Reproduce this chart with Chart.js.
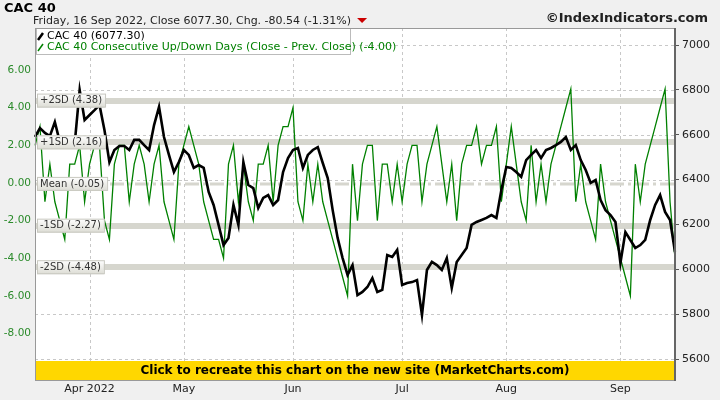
<!DOCTYPE html>
<html><head><meta charset="utf-8">
<script src="https://cdn.jsdelivr.net/npm/chart.js@4/dist/chart.umd.min.js"></script>
<style>html,body{margin:0;padding:0;background:#f0f0f0;}#w{width:720px;height:400px;position:relative;}</style>
</head><body><div id="w"><canvas id="c" width="720" height="400"></canvas></div>
<script>
const cacClose = [6590,6630,6608,6594,6657,6568,6554,6554,6560,6800,
6666,6688,6710,6733,6621,6478,6532,6550,6550,6532,
6577,6577,6554,6532,6643,6724,6590,6510,6434,6478,
6532,6510,6452,6465,6452,6345,6287,6198,6108,6140,
6287,6198,6478,6376,6362,6273,6318,6331,6287,6309,
6434,6496,6532,6541,6452,6510,6532,6545,6474,6407,
6264,6140,6050,5975,6019,5885,5899,5921,5961,5899,
5908,6064,6055,6086,5930,5939,5943,5952,5796,5997,
6033,6019,5997,6050,5917,6033,6064,6095,6198,6211,
6220,6229,6242,6229,6354,6456,6452,6434,6412,6487,
6510,6532,6496,6532,6541,6554,6568,6590,6532,6554,
6487,6443,6385,6398,6309,6264,6242,6211,6028,6166,
6131,6095,6108,6131,6220,6287,6331,6256,6220,6077];
const upDown = [2,3,-1,1,-1,-2,-3,1,1,2,
-1,1,2,2,-2,-3,1,2,2,-1,
1,2,1,-1,1,2,-1,-2,-3,1,
2,3,2,1,-1,-2,-3,-3,-4,1,
2,-1,1,-1,-2,1,1,2,-1,2,
3,3,4,-1,-2,1,-1,1,-1,-2,
-3,-4,-5,-6,1,-2,1,2,2,-2,
1,1,-1,1,-1,1,2,2,-1,1,
2,3,1,-1,1,-2,1,2,2,3,
1,2,2,3,-1,1,3,1,-1,-2,
2,-1,1,-1,1,2,3,4,5,-1,
1,-1,-2,-3,1,-1,-2,-3,-4,-5,
-6,1,-1,1,2,3,4,5,-1,-4];
const leftTicks = [6,4,2,0,-2,-4,-6,-8];
const rightTicks = [5600,5800,6000,6200,6400,6600,6800,7000];
const sdLines = [{v:4.38,t:'+2SD (4.38)'},{v:2.16,t:'+1SD (2.16)'},{v:-2.27,t:'-1SD (-2.27)'},{v:-4.48,t:'-2SD (-4.48)'}];
const meanLine = {v:-0.05,t:'Mean (-0.05)'};
const monthNames = ['Jan','Feb','Mar','Apr','May','Jun','Jul','Aug','Sep','Oct','Nov','Dec'];
const holidays = ['2022-04-15','2022-04-18'];
const dates = [];
for (let d = new Date(Date.UTC(2022,2,17)); dates.length < 130; d.setUTCDate(d.getUTCDate()+1)) {
  const wd = d.getUTCDay(); const s = d.toISOString().slice(0,10);
  if (wd===0||wd===6||holidays.includes(s)) continue;
  dates.push(s);
}
function monthStart(i){ if(i===0) return false; return dates[i].slice(5,7)!==dates[i-1].slice(5,7); }
function monthLabel(i){ const m=+dates[i].slice(5,7)-1; return m===3? 'Apr 2022' : monthNames[m]; }

const deco = {
  id:'deco',
  beforeDraw(ch){
    const c=ch.ctx, A=ch.chartArea; c.save();
    c.fillStyle='#f0f0f0'; c.fillRect(0,0,720,400);
    c.fillStyle='#ffffff'; c.fillRect(A.left,A.top,A.right-A.left,A.bottom-A.top);
    c.strokeStyle='#c8c8c8'; c.lineWidth=1; c.setLineDash([3,3]);
    const x=ch.scales.x, yr=ch.scales.yR;
    dates.forEach((d,i)=>{ if(monthStart(i)){const p=Math.round(x.getPixelForValue(i))+0.5; c.beginPath(); c.moveTo(p,A.top); c.lineTo(p,A.bottom); c.stroke();}});
    rightTicks.forEach(v=>{const p=Math.round(yr.getPixelForValue(v))+0.5; c.beginPath(); c.moveTo(A.left,p); c.lineTo(A.right,p); c.stroke();});
    c.setLineDash([]);
    const y=ch.scales.yL;
    c.lineWidth=6; c.strokeStyle='#d6d6ce';
    sdLines.forEach(s=>{const p=Math.round(y.getPixelForValue(s.v)); c.beginPath(); c.moveTo(A.left,p); c.lineTo(A.right,p); c.stroke();});
    c.lineWidth=3; c.setLineDash([14,4,3,4]);
    const pm=y.getPixelForValue(meanLine.v); c.beginPath(); c.moveTo(A.left,pm); c.lineTo(A.right,pm); c.stroke();
    c.restore();
  },
  afterDatasetsDraw(ch){
    const c=ch.ctx, A=ch.chartArea, PL=A.left, PT=A.top, PR=A.right; c.save();
    const y=ch.scales.yL;
    c.font='10px "DejaVu Sans"'; c.textBaseline='middle';
    [...sdLines,meanLine].forEach(s=>{
      const p=y.getPixelForValue(s.v); const w=c.measureText(s.t).width+6;
      const g=c.createLinearGradient(0,p-7,0,p+7); g.addColorStop(0,'#ffffff'); g.addColorStop(1,'#dcdcd4');
      c.fillStyle=g; c.fillRect(PL+2,p-7,w,14); c.strokeStyle='#c8c8c0'; c.lineWidth=1; c.strokeRect(PL+2.5,p-6.5,w,13);
      c.fillStyle='#333'; c.fillText(s.t,PL+5,p);
    });
    c.fillStyle='#fff'; c.fillRect(PL+1,PT+1,314,26); c.strokeStyle='#bbb'; c.strokeRect(PL+1.5,PT+0.5,314,26);
    c.font='11px "DejaVu Sans"';
    c.lineWidth=2.5; c.strokeStyle='#000'; c.beginPath(); c.moveTo(PL+3,40); c.lineTo(PL+8,33); c.stroke();
    c.fillStyle='#000'; c.fillText('CAC 40 (6077.30)',PL+12,36);
    c.lineWidth=1.5; c.strokeStyle='#008000'; c.beginPath(); c.moveTo(PL+3,51); c.lineTo(PL+8,44); c.stroke();
    c.fillStyle='#008000'; c.fillText('CAC 40 Consecutive Up/Down Days (Close - Prev. Close) (-4.00)',PL+12,47);
    c.fillStyle='#ffd700'; c.fillRect(PL,361,PR-PL,20);
    c.fillStyle='#000'; c.font='bold 12px "DejaVu Sans"'; c.textAlign='center';
    c.fillText('Click to recreate this chart on the new site (MarketCharts.com)',(PL+PR)/2,371);
    c.strokeStyle='#999'; c.lineWidth=1; c.strokeRect(PL+0.5,PT+0.5,PR-PL-1,A.bottom-PT-1);
    c.strokeStyle='#666'; c.lineWidth=2; c.beginPath(); c.moveTo(PR,PT); c.lineTo(PR,A.bottom); c.stroke();
    c.textAlign='left'; c.textBaseline='alphabetic';
    c.font='bold 13px "DejaVu Sans"'; c.fillStyle='#000'; c.fillText('CAC 40',4,12);
    c.font='11px "DejaVu Sans"'; c.fillStyle='#222'; const st='Friday, 16 Sep 2022, Close 6077.30, Chg. -80.54 (-1.31%)';
    c.fillText(st,33,24); const sw=c.measureText(st).width;
    c.fillStyle='#cc0000'; c.beginPath(); c.moveTo(33+sw+6,18); c.lineTo(33+sw+16,18); c.lineTo(33+sw+11,23); c.fill();
    c.font='bold 13px "DejaVu Sans"'; c.fillStyle='#222'; c.textAlign='right'; c.fillText('©IndexIndicators.com',708,22);
    c.restore();
  }
};
new Chart(document.getElementById('c'),{
  type:'line',
  data:{labels:dates,datasets:[
    {label:'CAC 40',data:cacClose,yAxisID:'yR',borderColor:'#000',borderWidth:2.6,pointRadius:0,tension:0,order:1},
    {label:'Up/Down',data:upDown,yAxisID:'yL',borderColor:'#008000',borderWidth:1.3,pointRadius:0,tension:0,order:2}
  ]},
  plugins:[deco],
  options:{responsive:false,animation:false,
    layout:{padding:{top:28,left:0,right:0,bottom:0}},
    plugins:{legend:{display:false},tooltip:{enabled:false}},
    scales:{
      x:{offset:false,afterFit(s){s.height=19;},
        grid:{display:false,drawTicks:false,tickLength:0},border:{display:false},
        ticks:{autoSkip:false,maxRotation:0,padding:2,color:'#222',font:{size:11,family:'DejaVu Sans'},
          callback:(v,i)=>monthStart(i)?monthLabel(i):''}},
      yL:{position:'left',min:-10.53,max:8.24,afterFit(s){s.width=35;},
        afterBuildTicks(s){s.ticks=leftTicks.map(v=>({value:v}));},
        grid:{display:false,drawTicks:false,tickLength:0},border:{display:false},
        ticks:{color:'#2a8a2a',padding:4,font:{size:10.5,family:'DejaVu Sans'},callback:v=>v.toFixed(2)}},
      yR:{position:'right',min:5502,max:7076,afterFit(s){s.width=45;},
        afterBuildTicks(s){s.ticks=rightTicks.map(v=>({value:v}));},
        grid:{display:true,drawOnChartArea:false,drawTicks:true,tickLength:4,tickColor:'#555'},border:{display:false},
        ticks:{color:'#222',padding:3,font:{size:11,family:'DejaVu Sans'},callback:v=>String(v)}}
    }}
});
</script></body></html>
